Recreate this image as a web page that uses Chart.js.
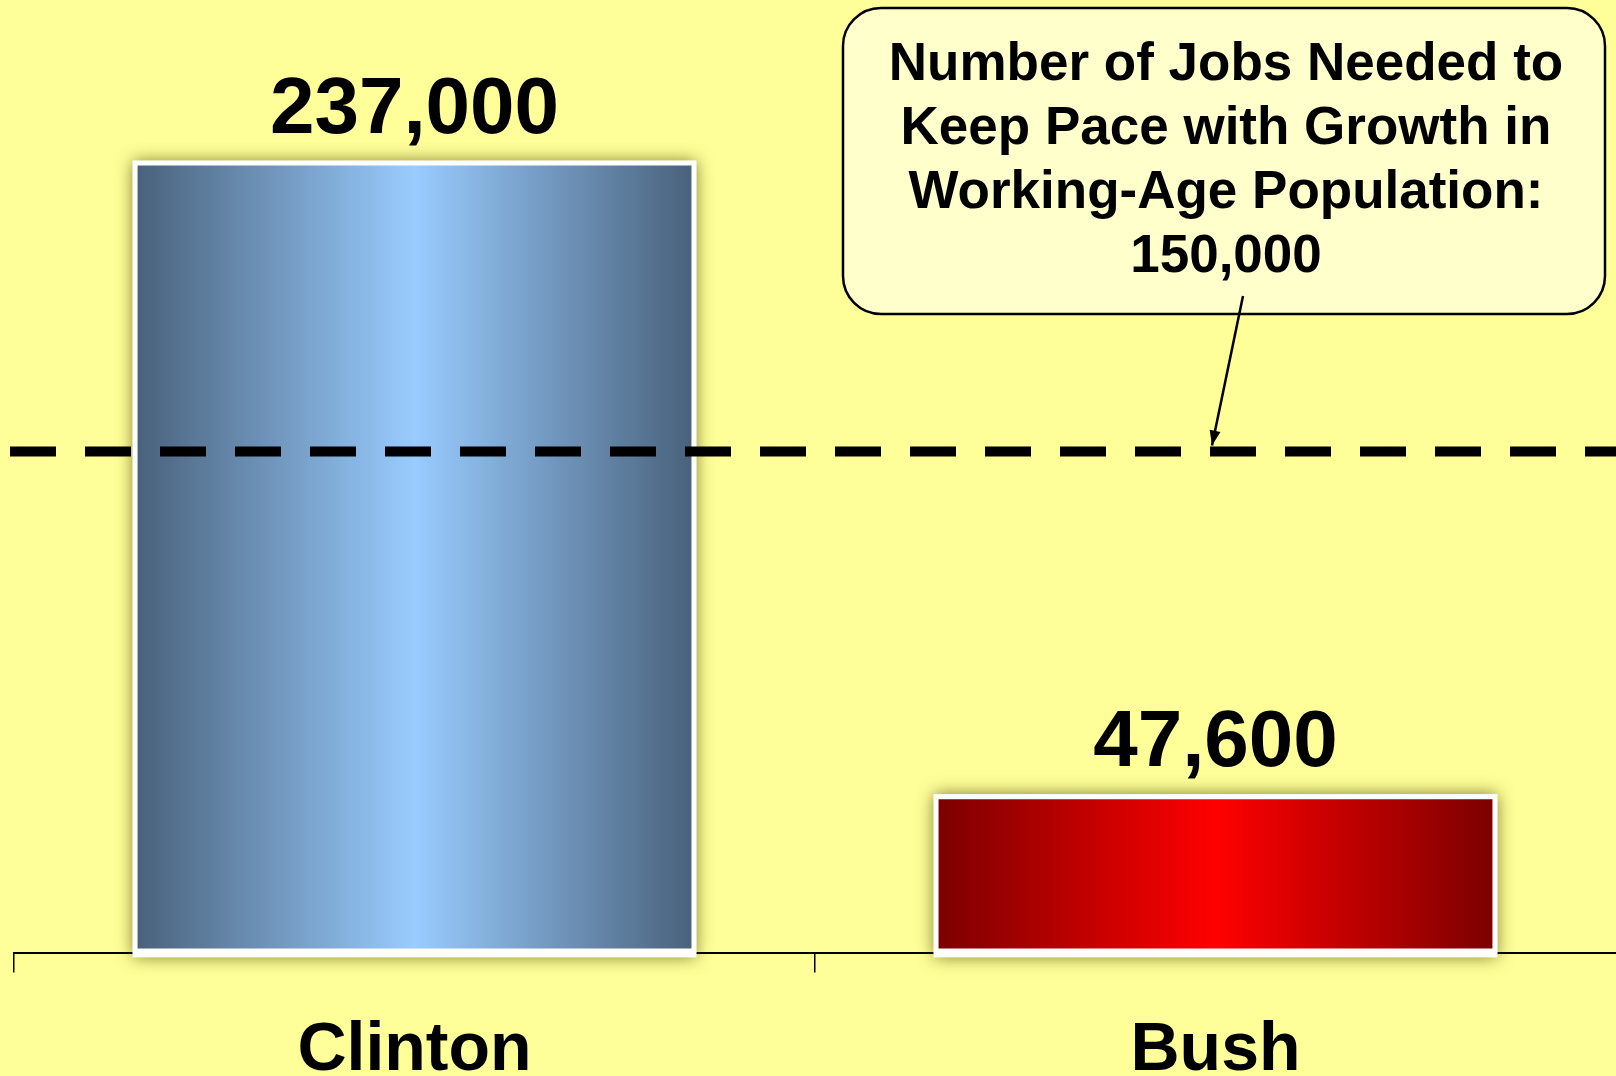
<!DOCTYPE html>
<html>
<head>
<meta charset="utf-8">
<script src="https://cdn.jsdelivr.net/npm/chart.js@4"></script>
<style>
  html, body { margin:0; padding:0; background:#FFFF99; overflow:hidden; }
  #wrap { width:1616px; height:1076px; overflow:hidden; }
  canvas { display:block; }
</style>
</head>
<body>
<div id="wrap"><canvas id="chart" width="1616" height="1130"></canvas></div>
<script>
// data
const categories = ["Clinton", "Bush"];
const jobsPerMonth = [237000, 47600];
const valueLabels = ["237,000", "47,600"];
const thresholdValue = 150000;
const calloutLines = [
    "Number of Jobs Needed to",
    "Keep Pace with Growth in",
    "Working-Age Population:",
    "150,000"
];

const FONT = "'Liberation Sans', Arial, sans-serif";
const BAR_PCT = 0.704;

const barStops = [
    ["#48607A", "#99CCFF", "#48607A"],
    ["#7A0000", "#FF0000", "#7A0000"]
];

function barGradient(context) {
    const chart = context.chart;
    const xs = chart.scales.x;
    const stops = barStops[context.dataIndex];
    if (!xs || !xs.width) return stops[1];
    const cx = xs.getPixelForValue(context.dataIndex);
    const w = xs.width / categories.length * BAR_PCT;
    const g = chart.ctx.createLinearGradient(cx - w / 2, 0, cx + w / 2, 0);
    g.addColorStop(0, stops[0]);
    g.addColorStop(0.5, stops[1]);
    g.addColorStop(1, stops[2]);
    return g;
}

// soft shadow behind each bar
const barShadow = {
    id: "barShadow",
    beforeDatasetsDraw(chart) {
        const ctx = chart.ctx;
        chart.getDatasetMeta(0).data.forEach(bar => {
            ctx.save();
            ctx.shadowColor = "rgba(70,70,0,0.7)";
            ctx.shadowBlur = 16;
            ctx.fillStyle = "#FFFFFF";
            ctx.fillRect(bar.x - bar.width / 2, bar.y, bar.width, bar.base - bar.y + 4);
            ctx.restore();
        });
    }
};

// value labels, dashed threshold line, callout with arrow
const extras = {
    id: "extras",
    afterDatasetsDraw(chart) {
        const ctx = chart.ctx;
        const ys = chart.scales.y;
        const meta = chart.getDatasetMeta(0);

        ctx.save();
        ctx.fillStyle = "#000";
        ctx.textAlign = "center";
        ctx.textBaseline = "alphabetic";
        ctx.font = "bold 80px " + FONT;
        meta.data.forEach((bar, i) => {
            ctx.fillText(valueLabels[i], bar.x, bar.y - 28);
        });
        ctx.restore();

        const lineY = ys.getPixelForValue(thresholdValue);
        ctx.save();
        ctx.strokeStyle = "#000";
        ctx.lineWidth = 10;
        ctx.setLineDash([46, 29]);
        ctx.beginPath();
        ctx.moveTo(10, lineY);
        ctx.lineTo(chart.width, lineY);
        ctx.stroke();
        ctx.restore();

        // callout box
        const bx = 843, by = 8, bw = 762, bh = 306, r = 38;
        ctx.save();
        ctx.beginPath();
        ctx.roundRect(bx, by, bw, bh, r);
        ctx.fillStyle = "#FFFFCC";
        ctx.fill();
        ctx.lineWidth = 2.5;
        ctx.strokeStyle = "#000";
        ctx.stroke();

        ctx.fillStyle = "#000";
        ctx.textAlign = "center";
        ctx.textBaseline = "alphabetic";
        ctx.font = "bold 53px " + FONT;
        calloutLines.forEach((line, i) => {
            ctx.fillText(line, bx + bw / 2 + 2, 80 + i * 64);
        });

        // arrow to the dashed line
        const x0 = 1243, y0 = 296;
        const x1 = 1212, y1 = lineY - 6;
        ctx.lineWidth = 2.5;
        ctx.beginPath();
        ctx.moveTo(x0, y0);
        ctx.lineTo(x1, y1);
        ctx.stroke();
        const ang = Math.atan2(y1 - y0, x1 - x0);
        ctx.beginPath();
        ctx.moveTo(x1, y1);
        ctx.lineTo(x1 - 16 * Math.cos(ang - 0.35), y1 - 16 * Math.sin(ang - 0.35));
        ctx.lineTo(x1 - 16 * Math.cos(ang + 0.35), y1 - 16 * Math.sin(ang + 0.35));
        ctx.closePath();
        ctx.fill();
        ctx.restore();
    }
};

new Chart(
    document.getElementById("chart"),
    {
        type: "bar",
        data: {
            labels: categories,
            datasets: [
                {
                    data: jobsPerMonth,
                    backgroundColor: barGradient,
                    borderColor: "#FFFFFF",
                    borderWidth: 5,
                    borderSkipped: false,
                    barPercentage: BAR_PCT,
                    categoryPercentage: 1
                }
            ]
        },
        options: {
            responsive: false,
            animation: false,
            devicePixelRatio: 1,
            layout: { padding: { top: 0, left: 14, right: 0, bottom: 0 } },
            plugins: {
                legend: { display: false },
                tooltip: { enabled: false }
            },
            scales: {
                x: {
                    grid: {
                        display: true,
                        drawOnChartArea: false,
                        drawTicks: true,
                        tickLength: 19,
                        color: (c) => c.tick ? "#000" : "rgba(0,0,0,0)",
                        lineWidth: 1.5
                    },
                    border: { display: true, color: "#000", width: 2 },
                    ticks: {
                        color: "#000",
                        padding: 38,
                        font: { family: FONT, size: 68, weight: "bold" }
                    }
                },
                y: {
                    display: false,
                    min: 0,
                    max: 285000
                }
            }
        },
        plugins: [barShadow, extras]
    }
);
</script>
</body>
</html>
